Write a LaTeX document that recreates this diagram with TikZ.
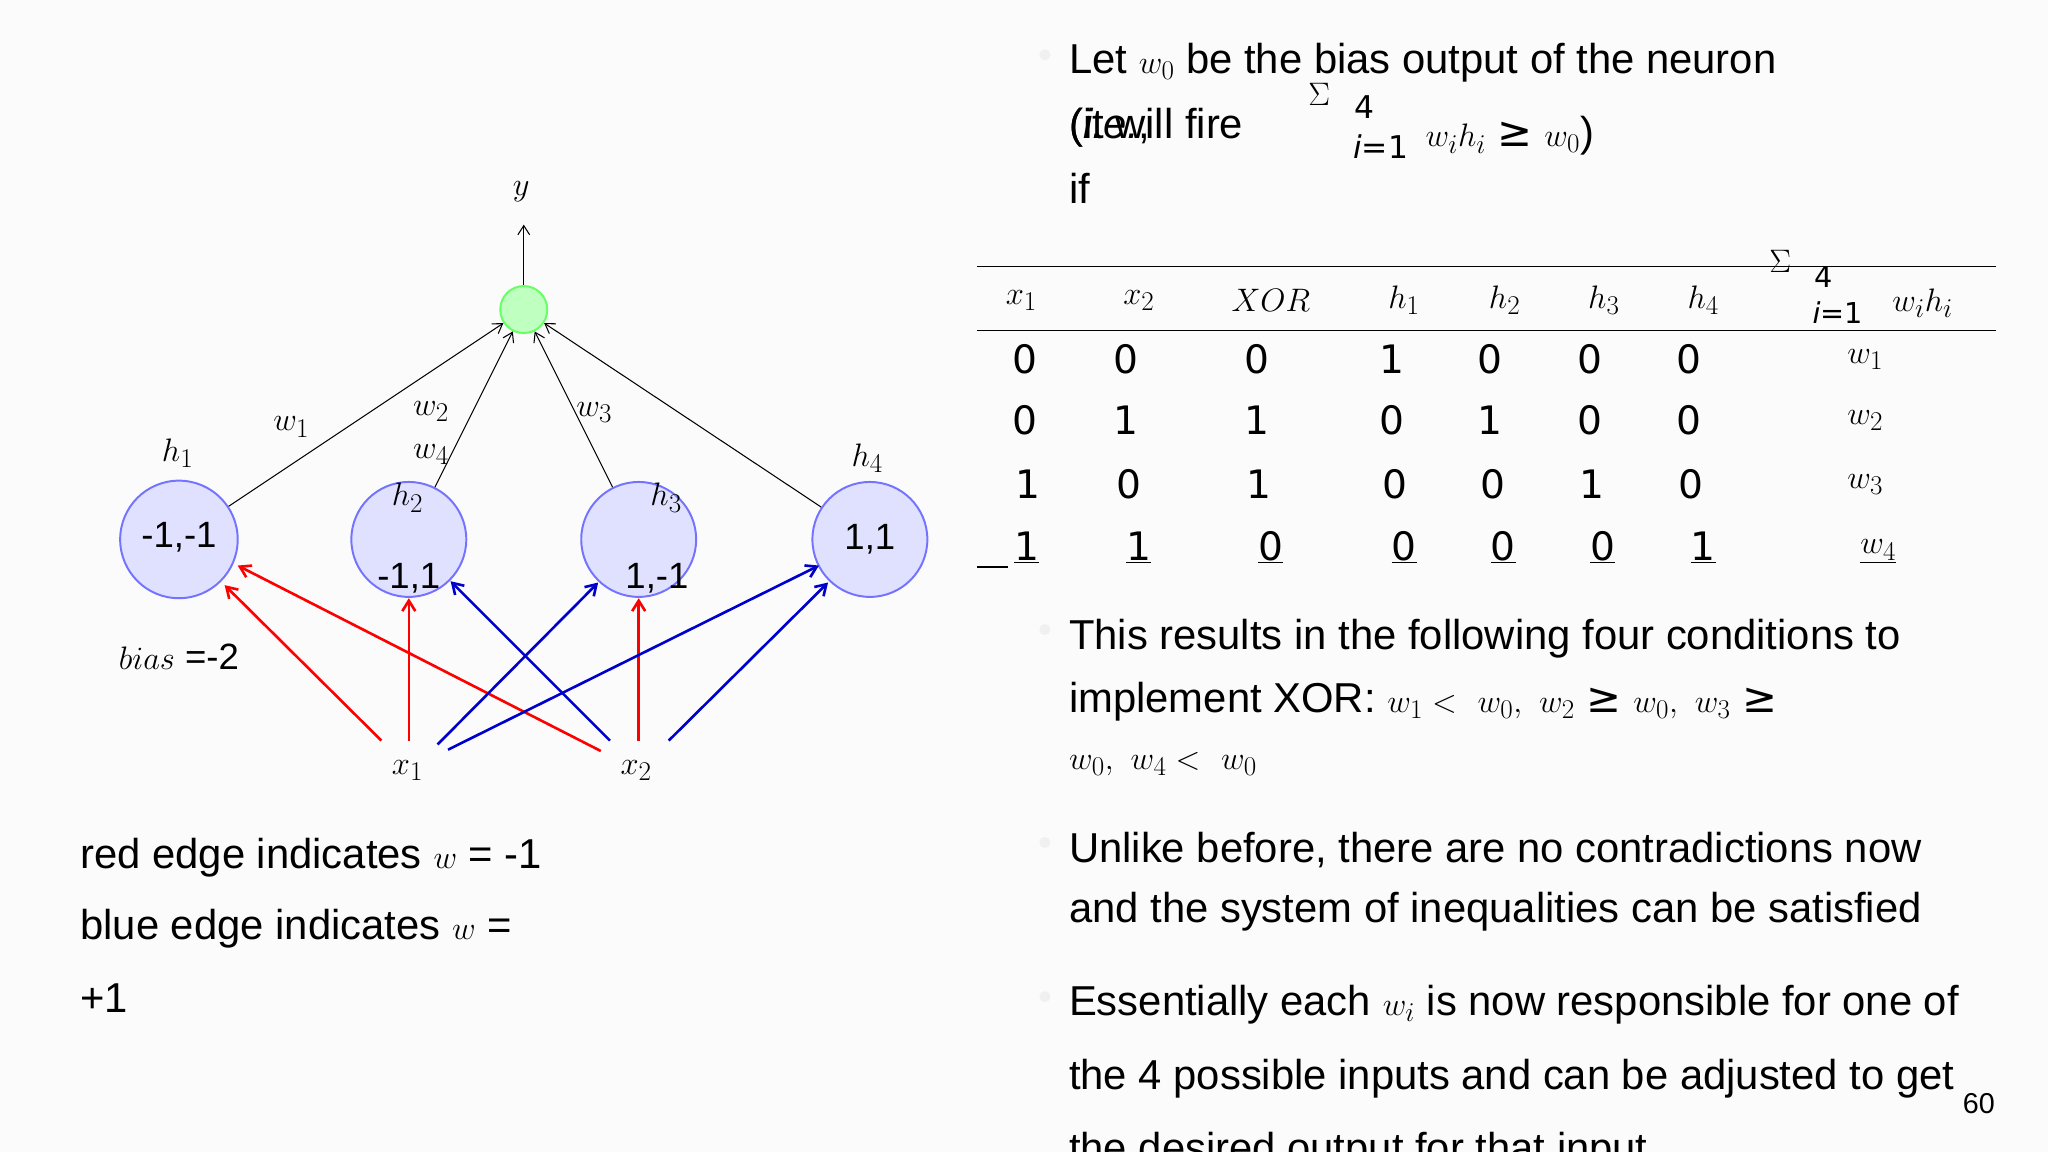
\documentclass[tikz,border=0pt]{standalone}
\usepackage{fontspec}
\setmainfont{Liberation Sans}
\newfontfamily\djv{DejaVu Sans}
\usetikzlibrary{arrows.meta}
\begin{document}
\begin{tikzpicture}[x=1pt,y=-1pt,
  neuron/.style={circle,draw=blue!55,fill=blue!12,line width=1.5pt,minimum size=90pt,inner sep=0pt},
  redge/.style={red,line width=2pt,-{Straight Barb[length=8pt,width=10pt]}},
  bedge/.style={blue!80!black,line width=2pt,-{Straight Barb[length=8pt,width=10pt]}},
  kedge/.style={black,line width=0.8pt,-{Straight Barb[length=7pt,width=9pt]}},
  lab/.style={font=\fontsize{28}{32}\selectfont},
  big/.style={font=\fontsize{32}{38}\selectfont,anchor=west},
  tab/.style={font=\fontsize{30}{34}\selectfont\djv},
  bul/.style={circle,fill=gray!12,inner sep=3pt}]
\fill[gray!3] (0,0) rectangle (1568,882);
\useasboundingbox (0,0) rectangle (1568,882);
% network
\node[circle,draw=green!60,fill=green!25,line width=1.5pt,minimum size=36pt,inner sep=0pt] (o) at (401,237) {};
\coordinate (yt) at (401,172);
\node[lab] (y) at (399,147) {$y$};
\draw[kedge] (o) -- (yt);
\node[neuron] (h1) at (137,413) {};
\node[neuron,minimum size=88pt] (h2) at (313,413) {};
\node[neuron,minimum size=88pt] (h3) at (489,413) {};
\node[neuron,minimum size=88pt] (h4) at (666,413) {};
\node[lab] at (137,411) {-1,-1};
\node[lab] at (313,443) {-1,1};
\node[lab] at (503,443) {1,-1};
\node[lab] at (666,413) {1,1};
\node[lab] at (136,347) {$h_1$};
\node[lab] at (312,381) {$h_2$};
\node[lab] at (510,381) {$h_3$};
\node[lab] at (664,351) {$h_4$};
\draw[kedge] (h1) -- (o);
\draw[kedge] (h2) -- (o);
\draw[kedge] (h3) -- (o);
\draw[kedge] (h4) -- (o);
\node[lab] at (223,327) {$w_1$};
\node[lab] at (330,315) {$w_2$};
\node[lab] at (330,348) {$w_4$};
\node[lab] at (455,316) {$w_3$};
\node[lab] (x1) at (312,590) {$x_1$};
\node[lab] (x2) at (487,590) {$x_2$};
\coordinate (a1) at (292,567); \coordinate (a2) at (313,567); \coordinate (a3) at (335,570); \coordinate (a4) at (343,574);
\coordinate (b1) at (460,575); \coordinate (b2) at (489,567); \coordinate (b3) at (467,567); \coordinate (b4) at (512,567);
\draw[redge] (a1) -- (172,448);
\draw[redge] (a2) -- (313,458);
\draw[redge] (b1) -- (182,433);
\draw[redge] (b2) -- (489,458);
\draw[bedge] (a3) -- (458,446);
\draw[bedge] (a4) -- (627,433);
\draw[bedge] (b3) -- (345,445);
\draw[bedge] (b4) -- (634,446);
\node[lab] at (137,503) {$bias$ =-2};
\node[big] at (58,657) {red edge indicates $w$ = -1};
\node[big] at (58,711) {blue edge indicates $w$ =};
\node[big] at (58,764) {+1};
% right text
\foreach \yy in {42,482,645,763} \node[bul] at (800,\yy) {};
\node[big] at (815,48) {Let $w_0$ be the bias output of the neuron};
\node[big] at (815,98) {(it will fire};
\node[big] at (815,98) {(\textit{i.e.},};
\node[big] at (815,144) {if};
\node[font=\fontsize{30}{34}\selectfont] at (1010,72) {$\Sigma$};
\node[font=\fontsize{24}{28}\selectfont\djv] at (1045,82) {4};
\node[font=\fontsize{24}{28}\selectfont\djv] at (1057,112) {\textit{i}=1};
\node[big] at (1088,104) {$w_ih_i$ {\djv ≥} $w_0$)};
% table
\draw[line width=0.8pt] (748,204) -- (1528,204);
\draw[line width=0.8pt] (748,253) -- (1528,253);
\foreach \x/\t in {782/$x_1$,872/$x_2$,973/$XOR$,1075/$h_1$,1152/$h_2$,1228/$h_3$,1304/$h_4$}
  \node[lab] at (\x,230) {\t};
\node[font=\fontsize{30}{34}\selectfont] at (1363,200) {$\Sigma$};
\node[font=\fontsize{22}{26}\selectfont\djv] at (1396,212) {4};
\node[font=\fontsize{22}{26}\selectfont\djv] at (1407,239) {\textit{i}=1};
\node[lab] at (1472,232) {$w_ih_i$};
\foreach \x/\a/\b/\c in {785/0/0/1, 862/0/1/0, 962/0/1/1, 1066/1/0/0, 1141/0/1/0, 1217/0/0/1, 1293/0/0/0}{
  \node[tab] at (\x,275) {\a};
  \node[tab] at (\x,322) {\b};
  \node[tab] at (\x+2,371) {\c};
}
\foreach \x/\d in {786/1,872/1,973/0,1075/0,1151/0,1227/0,1304/1}
  \node[tab] at (\x,419) {\underline{\d}};
\draw[line width=1pt] (748,434) -- (772,434);
\foreach \yy/\t in {275/$w_1$,322/$w_2$,371/$w_3$} \node[lab] at (1428,\yy) {\t};
\node[lab] at (1438,422) {\underline{$w_4$}};
\node[big] at (815,489) {This results in the following four conditions to};
\node[big] at (815,537) {implement XOR: $w_1 <\ w_0,\ w_2$ {\djv ≥} $w_0,\ w_3$ {\djv ≥}};
\node[big] at (815,585) {$w_0,\ w_4 <\ w_0$};
\node[big] at (815,651) {Unlike before, there are no contradictions now};
\node[big] at (815,698) {and the system of inequalities can be satisfied};
\node[big] at (815,769) {Essentially each $w_i$ is now responsible for one of};
\node[big] at (815,826) {the 4 possible inputs and can be adjusted to get};
\node[big] at (815,882) {the desired output for that input};
\node[font=\fontsize{22}{26}\selectfont] at (1515,845) {60};
\end{tikzpicture}
\end{document}
